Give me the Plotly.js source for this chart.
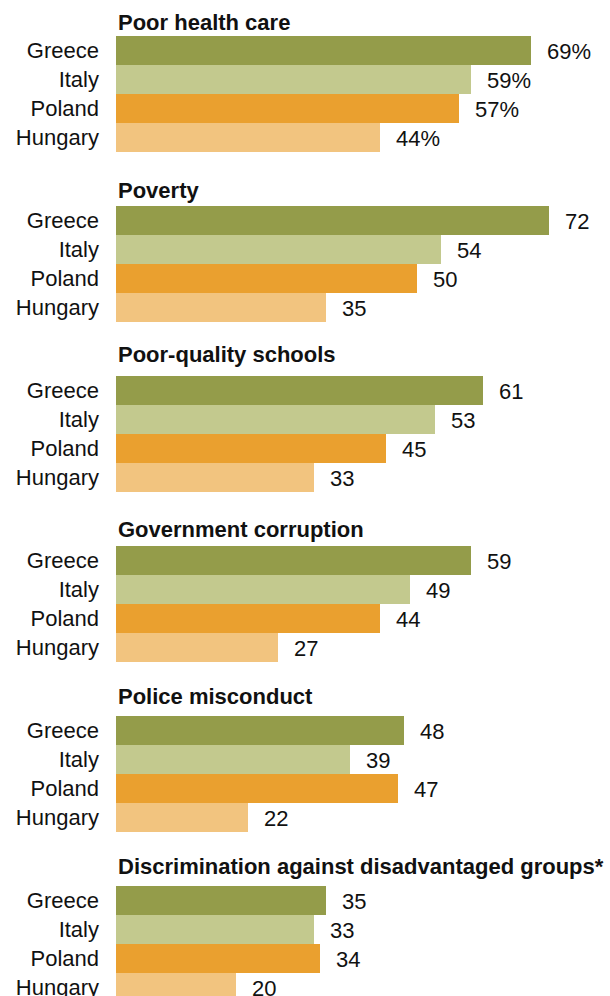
<!DOCTYPE html>
<html>
<head>
<meta charset="utf-8">
<script src="https://cdn.plot.ly/plotly-3.0.1.min.js"></script>
<style>html,body{margin:0;padding:0;background:#fff;}#chart{width:610px;height:996px;}</style>
</head>
<body>
<div id="chart"></div>
<script>
// ---- data ----
const countries = ["Greece", "Italy", "Poland", "Hungary"];
const issues = ["Poor health care", "Poverty", "Poor-quality schools", "Government corruption", "Police misconduct", "Discrimination against disadvantaged groups*"];
const healthCare = [69, 59, 57, 44];
const poverty = [72, 54, 50, 35];
const schools = [61, 53, 45, 33];
const corruption = [59, 49, 44, 27];
const police = [48, 39, 47, 22];
const discrimination = [35, 33, 34, 20];
const panelValues = [healthCare, poverty, schools, corruption, police, discrimination];
const barColors = ["#949C4A", "#C3C98E", "#EAA02F", "#F2C47F"];

// ---- layout geometry (pixels) ----
const W = 610, H = 996;
const panelTops = [36, 206, 376, 546, 716, 886];
const titleBaselines = [31, 199, 363, 538, 705, 875];
const barPx = 29;
const FONT = "Liberation Sans, Arial, sans-serif";

const data = [];
const annotations = [];
const layout = {
  width: W, height: H,
  margin: {l: 116, r: 0, t: 0, b: 0},
  paper_bgcolor: "#fff", plot_bgcolor: "#fff",
  showlegend: false,
  bargap: 0,
  font: {family: FONT, size: 22, color: "#111"},
  annotations: annotations
};
const plotW = W - 116;
const pxPerUnit = 6.01;
const xMax = plotW / pxPerUnit;

panelValues.forEach((vals, i) => {
  const k = i + 1;
  const xa = k === 1 ? "x" : "x" + k;
  const ya = k === 1 ? "y" : "y" + k;
  const top = panelTops[i];
  const bottom = Math.min(top + 4 * barPx, H);
  const rangeBottom = -0.5 + (bottom - top) / barPx;
  data.push({
    type: "bar", orientation: "h",
    x: vals, y: countries,
    xaxis: xa, yaxis: ya,
    marker: {color: barColors, line: {width: 0}},
    hoverinfo: "skip"
  });
  layout[(k === 1 ? "xaxis" : "xaxis" + k)] = {
    range: [0, xMax], visible: false, fixedrange: true,
    anchor: ya
  };
  layout[(k === 1 ? "yaxis" : "yaxis" + k)] = {
    domain: [1 - bottom / H, 1 - top / H],
    type: "category", categoryorder: "array", categoryarray: countries,
    range: [rangeBottom, -0.5],
    showgrid: false, zeroline: false, showline: false,
    ticks: "", ticklabelstandoff: 16,
    tickfont: {family: FONT, size: 22, color: "#111"},
    anchor: xa, fixedrange: true
  };
  // panel title
  annotations.push({
    xref: "paper", yref: "paper",
    x: 0, xanchor: "left", xshift: 0,
    y: 1 - (titleBaselines[i] + 6) / H, yanchor: "bottom",
    text: "<b>" + issues[i] + "</b>", showarrow: false,
    font: {family: FONT, size: 22, color: "#111"}
  });
  // value labels
  vals.forEach((v, j) => {
    annotations.push({
      xref: xa, yref: ya,
      x: v, y: countries[j],
      xanchor: "left", yanchor: "middle", xshift: 14, yshift: -1,
      text: i === 0 ? v + "%" : String(v), showarrow: false,
      font: {family: FONT, size: 22, color: "#111"}
    });
  });
});

Plotly.newPlot("chart", data, layout, {displayModeBar: false, staticPlot: true});
</script>
</body>
</html>
